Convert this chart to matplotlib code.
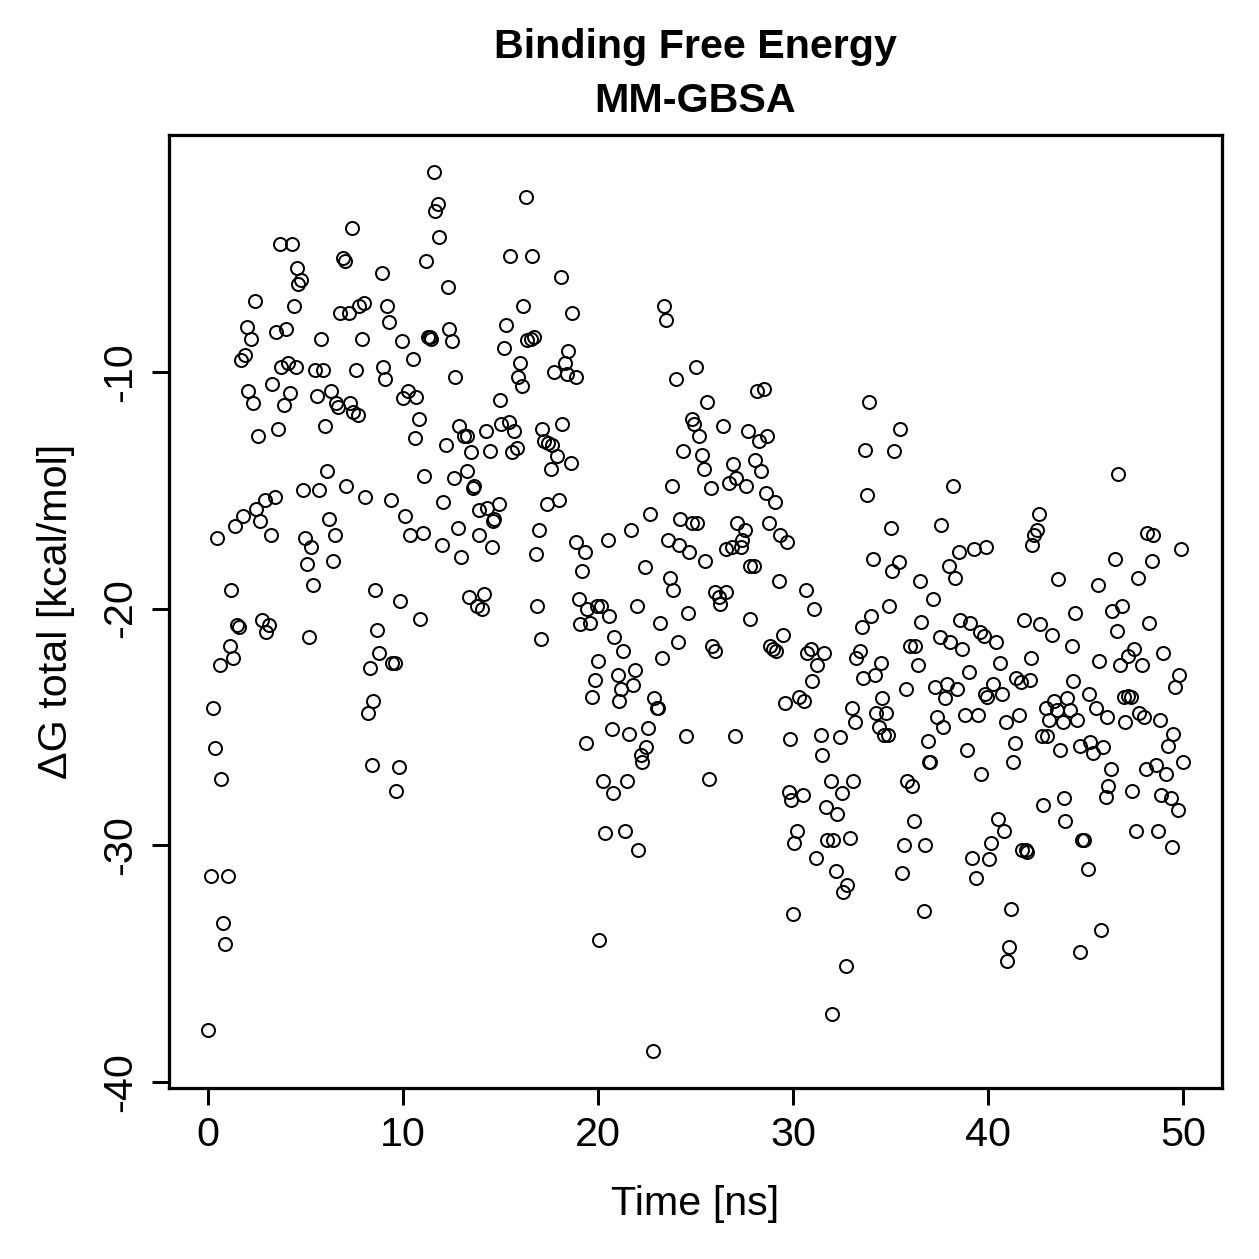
import matplotlib
matplotlib.use("Agg")
import matplotlib.pyplot as plt

plt.rcParams['font.family'] = ['Liberation Sans', 'DejaVu Sans']
plt.rcParams['axes.unicode_minus'] = False

# MM-GBSA binding free energy per frame
time_00_10 = [0.00, 0.17, 0.26, 0.38, 0.48, 0.60, 0.68, 0.77, 0.85, 1.02, 1.11, 1.19, 1.28, 1.37, 1.50, 1.57,
              1.67, 1.79, 1.88, 2.01, 2.05, 2.22, 2.31, 2.39, 2.48, 2.56, 2.65, 2.78, 2.90, 2.99, 3.11, 3.21,
              3.28, 3.42, 3.50, 3.59, 3.67, 3.76, 3.89, 4.01, 4.10, 4.18, 4.30, 4.41, 4.53, 4.56, 4.61, 4.78,
              4.85, 4.99, 5.10, 5.19, 5.28, 5.36, 5.50, 5.57, 5.67, 5.79, 5.91, 6.01, 6.08, 6.18, 6.30, 6.39,
              6.51, 6.56, 6.69, 6.76, 6.90, 7.04, 7.07, 7.21, 7.27, 7.38, 7.44, 7.58, 7.67, 7.75, 7.89, 8.01,
              8.06, 8.18, 8.30, 8.40, 8.47, 8.57, 8.69, 8.78, 8.91, 8.98, 9.08, 9.20, 9.29, 9.37, 9.43, 9.60,
              9.66, 9.77, 9.84, 9.94]
dg_00_10 = [-37.8, -31.3, -24.2, -25.9, -17.0, -22.4, -27.2, -33.3, -34.2, -31.3, -21.6, -19.2, -22.1, -16.5, -20.7, -20.8,
            -9.5, -16.1, -9.3, -8.1, -10.8, -8.6, -11.3, -7.0, -15.8, -12.7, -16.3, -20.5, -15.4, -21.0, -20.7, -16.9,
            -10.5, -15.3, -8.3, -12.4, -4.6, -9.8, -11.4, -8.2, -9.6, -10.9, -4.6, -7.2, -9.8, -5.6, -6.3, -6.1,
            -15.0, -17.0, -18.1, -21.2, -17.4, -19.0, -9.9, -11.0, -15.0, -8.6, -9.9, -12.3, -14.2, -16.2, -10.8, -18.0,
            -16.9, -11.3, -11.5, -7.5, -5.2, -5.3, -14.8, -7.5, -11.3, -3.9, -11.7, -9.9, -11.8, -7.2, -8.6, -7.1,
            -15.3, -24.4, -22.5, -26.6, -23.9, -19.2, -20.9, -21.9, -5.8, -9.8, -10.3, -7.2, -7.9, -15.4, -22.3, -22.3,
            -27.7, -26.7, -19.7, -8.7]

time_10_20 = [10.02, 10.10, 10.25, 10.37, 10.50, 10.59, 10.67, 10.81, 10.88, 11.02, 11.10, 11.19, 11.27, 11.36, 11.44,
              11.61, 11.66, 11.78, 11.87, 12.00, 12.07, 12.21, 12.30, 12.38, 12.52, 12.59, 12.69, 12.81, 12.89, 12.98,
              13.15, 13.27, 13.30, 13.37, 13.49, 13.58, 13.66, 13.78, 13.88, 13.92, 14.05, 14.17, 14.26, 14.29, 14.46,
              14.57, 14.60, 14.69, 14.91, 14.98, 15.01, 15.18, 15.27, 15.44, 15.49, 15.61, 15.69, 15.83, 15.90, 16.00,
              16.12, 16.17, 16.29, 16.38, 16.55, 16.60, 16.72, 16.80, 16.89, 16.97, 17.09, 17.15, 17.23, 17.37, 17.44,
              17.57, 17.66, 17.74, 17.91, 18.00, 18.08, 18.17, 18.29, 18.39, 18.46, 18.60, 18.68, 18.85, 18.88, 19.02,
              19.07, 19.19, 19.31, 19.37, 19.45, 19.59, 19.71, 19.83, 19.93]
dg_10_20 = [-11.1, -16.1, -10.8, -16.9, -9.45, -12.8, -11.05, -12.0, -20.45, -16.8, -14.4, -5.3, -8.5, -8.5, -8.6,
            -1.55, -3.2, -2.9, -4.3, -17.3, -15.5, -13.1, -6.4, -8.2, -8.7, -14.5, -10.2, -16.6, -12.3, -17.8,
            -12.7, -14.2, -12.7, -19.5, -13.4, -14.9, -14.8, -19.9, -16.9, -15.85, -20.0, -19.4, -12.5, -15.75, -13.35,
            -17.4, -16.3, -16.2, -15.6, -11.2, -12.2, -9.0, -8.0, -12.1, -5.1, -13.4, -12.5, -13.2, -10.2, -9.6,
            -10.6, -7.2, -2.6, -8.65, -8.6, -5.1, -8.5, -17.7, -19.9, -16.7, -21.3, -12.4, -12.9, -15.6, -13.0,
            -14.1, -13.1, -10.0, -13.55, -15.4, -6.0, -12.2, -9.6, -10.1, -9.1, -13.85, -7.5, -17.2, -10.2, -19.6,
            -20.65, -18.4, -17.6, -25.7, -20.0, -20.6, -23.75, -23.0, -19.9]

time_20_30 = [19.98, 20.05, 20.15, 20.24, 20.35, 20.49, 20.58, 20.70, 20.75, 20.83, 21.00, 21.09, 21.17, 21.26, 21.38,
              21.48, 21.60, 21.69, 21.77, 21.89, 21.99, 22.06, 22.20, 22.28, 22.40, 22.46, 22.57, 22.68, 22.80, 22.88,
              23.02, 23.09, 23.19, 23.26, 23.39, 23.48, 23.57, 23.70, 23.82, 23.87, 23.99, 24.08, 24.16, 24.21, 24.38,
              24.50, 24.59, 24.68, 24.80, 24.83, 24.91, 25.00, 25.09, 25.20, 25.31, 25.43, 25.51, 25.60, 25.68, 25.80,
              25.85, 25.99, 26.02, 26.19, 26.28, 26.40, 26.54, 26.57, 26.71, 26.88, 26.91, 27.01, 27.10, 27.15, 27.31,
              27.39, 27.53, 27.59, 27.70, 27.77, 27.82, 27.99, 28.07, 28.16, 28.28, 28.38, 28.50, 28.59, 28.67, 28.76,
              28.82, 28.96, 29.10, 29.13, 29.30, 29.35, 29.47, 29.58, 29.70, 29.78, 29.87, 29.92, 29.99]
dg_20_30 = [-22.2, -34.0, -19.9, -27.3, -29.5, -17.1, -20.3, -25.1, -27.8, -21.2, -22.8, -23.9, -23.4, -21.8, -29.4,
            -27.3, -25.3, -16.7, -23.25, -22.6, -19.9, -30.2, -26.2, -26.5, -18.25, -25.85, -25.05, -16.0, -38.7, -23.8,
            -24.2, -24.2, -20.6, -22.1, -7.2, -7.8, -17.1, -18.7, -14.8, -19.2, -10.3, -21.4, -17.3, -16.2, -13.35,
            -25.4, -20.2, -17.6, -16.4, -12.0, -12.2, -9.8, -16.4, -12.7, -13.5, -14.1, -18.0, -11.25, -27.2, -14.9,
            -21.6, -21.8, -19.3, -19.5, -19.8, -12.3, -19.3, -17.5, -14.7, -17.4, -13.9, -25.4, -14.5, -16.4, -17.4,
            -17.1, -16.7, -14.8, -12.5, -20.45, -18.2, -18.2, -13.7, -10.8, -12.9, -14.2, -10.7, -15.1, -12.7, -16.4,
            -21.6, -21.7, -15.5, -21.8, -18.85, -16.9, -21.1, -24.0, -17.2, -27.75, -25.5, -28.1, -32.9]

time_30_40 = [30.05, 30.20, 30.31, 30.52, 30.57, 30.69, 30.74, 30.91, 30.99, 31.08, 31.20, 31.25, 31.42, 31.51, 31.59,
              31.68, 31.76, 31.93, 31.98, 32.05, 32.19, 32.27, 32.39, 32.53, 32.56, 32.70, 32.79, 32.91, 33.01, 33.08,
              33.18, 33.25, 33.42, 33.52, 33.59, 33.69, 33.81, 33.90, 33.98, 34.10, 34.20, 34.24, 34.41, 34.49, 34.58,
              34.66, 34.78, 34.89, 34.90, 35.00, 35.07, 35.20, 35.42, 35.50, 35.59, 35.67, 35.81, 35.84, 35.98, 36.10,
              36.18, 36.27, 36.39, 36.49, 36.56, 36.70, 36.78, 36.90, 36.95, 37.04, 37.17, 37.29, 37.41, 37.52, 37.58,
              37.69, 37.81, 37.89, 37.98, 38.06, 38.20, 38.32, 38.40, 38.49, 38.58, 38.66, 38.83, 38.92, 39.00, 39.09,
              39.17, 39.29, 39.39, 39.51, 39.60, 39.65, 39.77, 39.86, 39.91, 39.94]
dg_30_40 = [-29.9, -29.4, -23.75, -27.9, -23.9, -19.2, -21.9, -21.7, -23.05, -20.0, -30.55, -22.4, -25.35, -26.2, -21.9,
            -28.4, -29.8, -27.3, -37.15, -29.8, -31.1, -28.7, -25.45, -27.8, -32.0, -35.1, -31.7, -29.7, -24.2, -27.3,
            -24.8, -22.1, -21.8, -20.8, -22.95, -13.3, -15.2, -11.25, -20.3, -17.9, -22.8, -24.4, -25.0, -22.3, -23.8,
            -25.35, -24.4, -25.35, -19.9, -16.6, -18.4, -13.35, -18.05, -12.4, -31.2, -30.0, -23.4, -27.3, -21.6, -27.5,
            -29.0, -21.6, -22.4, -18.85, -20.55, -32.8, -30.0, -25.6, -26.5, -26.5, -19.6, -23.3, -24.6, -21.2, -16.45,
            -25.0, -23.8, -23.2, -18.2, -21.4, -14.8, -18.7, -23.4, -17.6, -20.5, -21.7, -24.5, -26.0, -22.7, -20.6,
            -30.55, -17.5, -31.4, -24.5, -21.0, -27.0, -21.15, -23.6, -17.4, -23.75]

time_40_50 = [40.03, 40.16, 40.27, 40.39, 40.51, 40.61, 40.73, 40.81, 40.90, 40.98, 41.07, 41.19, 41.29, 41.41, 41.46,
              41.58, 41.67, 41.75, 41.84, 41.97, 42.01, 42.15, 42.18, 42.26, 42.38, 42.52, 42.61, 42.69, 42.78, 42.80,
              42.95, 43.03, 43.12, 43.29, 43.37, 43.55, 43.58, 43.68, 43.85, 43.89, 43.97, 44.06, 44.23, 44.31, 44.35,
              44.48, 44.57, 44.71, 44.74, 44.80, 44.93, 45.12, 45.18, 45.25, 45.41, 45.53, 45.63, 45.70, 45.80, 45.92,
              46.04, 46.09, 46.17, 46.31, 46.35, 46.52, 46.60, 46.69, 46.77, 46.89, 46.99, 47.03, 47.17, 47.20, 47.34,
              47.40, 47.51, 47.57, 47.68, 47.75, 47.92, 48.02, 48.09, 48.14, 48.26, 48.39, 48.48, 48.60, 48.70, 48.82,
              48.87, 48.99, 49.11, 49.21, 49.38, 49.42, 49.50, 49.59, 49.73, 49.79, 49.90, 50.02]
dg_40_50 = [-30.6, -29.9, -23.2, -21.4, -28.9, -22.3, -23.6, -29.4, -24.8, -34.9, -34.3, -32.7, -26.5, -25.7, -22.95,
            -24.5, -23.1, -30.2, -20.5, -30.2, -30.3, -23.0, -22.1, -17.3, -16.9, -16.7, -16.0, -20.65, -25.4, -28.3,
            -24.2, -25.4, -24.7, -21.1, -23.9, -24.3, -18.75, -26.0, -24.8, -28.0, -29.0, -23.8, -24.3, -21.6, -23.05,
            -20.2, -24.7, -25.8, -34.5, -29.8, -29.8, -31.0, -23.6, -25.65, -26.1, -24.2, -19.0, -22.2, -33.6, -25.85,
            -27.95, -24.6, -27.5, -26.8, -20.1, -17.9, -20.95, -14.3, -22.4, -19.9, -23.75, -24.8, -22.0, -23.7, -23.75,
            -27.7, -21.7, -29.4, -18.7, -24.4, -22.4, -24.6, -26.8, -16.8, -20.6, -18.0, -16.9, -26.6, -29.4, -24.7,
            -27.9, -21.9, -27.0, -25.8, -28.0, -30.1, -25.3, -23.3, -28.5, -22.8, -17.5, -26.5]

time_ns = time_00_10 + time_10_20 + time_20_30 + time_30_40 + time_40_50
dg_total = dg_00_10 + dg_10_20 + dg_20_30 + dg_30_40 + dg_40_50
assert len(time_ns) == len(dg_total)

x_ticks = [0, 10, 20, 30, 40, 50]
y_ticks = [-40, -30, -20, -10]

W = 1259
fig = plt.figure(figsize=(7, 7), dpi=W / 7)
ax = fig.add_axes([169 / W, 1 - 1088 / W, (1222 - 169) / W, (1088 - 135) / W])

# open circles, like R's pch = 1
ax.plot(time_ns, dg_total, linestyle='none', marker='o', ms=5.2,
        mfc='none', mec='black', mew=0.8)

ax.set_xlim(-2, 52)
ax.set_ylim(-40.27, 0.02)
ax.set_xticks(x_ticks)
ax.set_yticks(y_ticks)

fs = 16.5
for sp in ax.spines.values():
    sp.set_linewidth(1.3)
ax.tick_params(direction='out', length=6.8, width=1.2, labelsize=fs)
ax.tick_params(axis='x', pad=4.4)
ax.tick_params(axis='y', pad=5.3)
for lab in ax.get_yticklabels():
    lab.set_rotation(90)
    lab.set_va('center')

cx = (169 + 1222) / 2 / W
fig.text(cx, 1 - 57.5 / W, 'Binding Free Energy', ha='center', va='baseline',
         fontsize=fs, fontweight='bold')
fig.text(cx, 1 - 111.5 / W, 'MM-GBSA', ha='center', va='baseline',
         fontsize=fs, fontweight='bold')
fig.text(cx, 1 - 1215 / W, 'Time [ns]', ha='center', va='baseline', fontsize=fs)
fig.text(56 / W, 1 - 611 / W, '\u0394G total [kcal/mol]', ha='center', va='center',
         rotation=90, fontsize=fs)

fig.savefig('out.png', dpi=W / 7)
